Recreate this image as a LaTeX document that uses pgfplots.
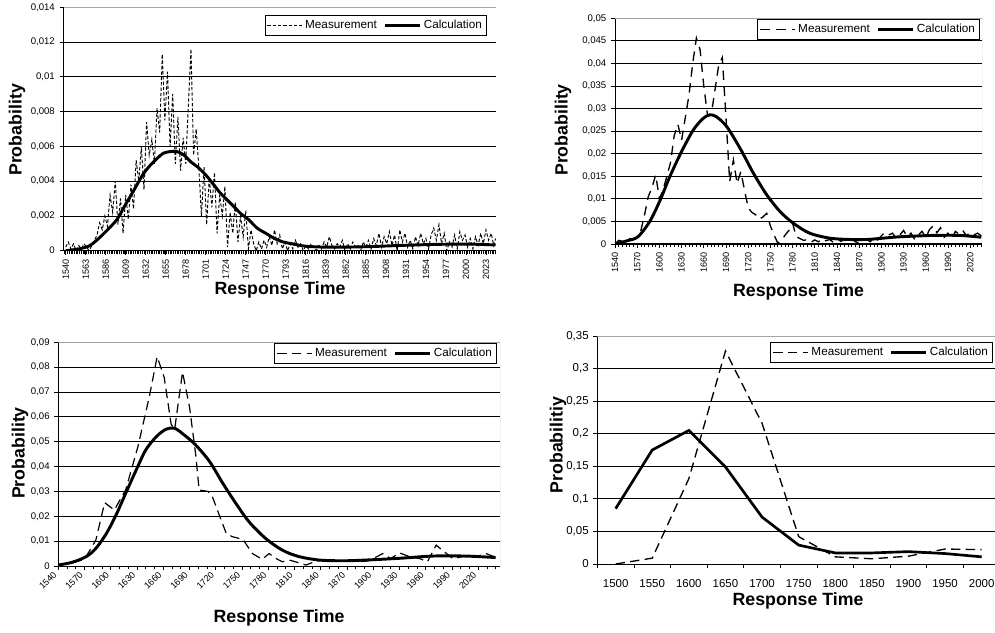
\documentclass[border=0pt]{standalone}
\usepackage{fontspec}
\setmainfont{Liberation Sans}
\usepackage{pgfplots}
\pgfplotsset{compat=1.18}
\begin{document}
\begin{tikzpicture}
\useasboundingbox (0,0) rectangle (746.25pt,474pt);
\pgfplotsset{
 panel/.style={
  scale only axis, anchor=south west,
  axis x line*=bottom, axis y line*=left,
  axis line style={black, line width=0.75pt},
  tick align=outside,
  major tick length=3pt, minor tick length=2.5pt,
  tick style={black, line width=0.6pt},
  ymajorgrids, grid style={black, line width=0.6pt},
  ymin=0, scaled y ticks=false, scaled x ticks=false,
  /pgf/number format/assume math mode=true,
  yticklabel style={font=\fontsize{7.2}{8}\selectfont, /pgf/number format/use comma, /pgf/number format/fixed, /pgf/number format/precision=3},
  xticklabel style={font=\fontsize{6.8}{8}\selectfont, /pgf/number format/1000 sep={}},
  label style={font=\bfseries\fontsize{13.3}{15}\selectfont},
  legend image code/.code={\draw[##1] (0pt,0pt) -- (26pt,0pt);},
  legend style={draw=black, line width=0.6pt, fill=white, font=\fontsize{8.8}{10}\selectfont, inner sep=1.5pt, anchor=north east, /tikz/every even column/.append style={column sep=3pt}},
  legend columns=2,
 },
 meas/.style={black, line width=0.8pt},
 calc/.style={black, line width=2.2pt},
}
% ---------------- Panel 1 ----------------
\begin{axis}[panel,
  at={(47.63pt,285.98pt)}, width=324.4pt, height=182.55pt,
  xmin=1537.5, xmax=2034.6, ymax=0.014,
  ytick={0,0.002,0.004,0.006,0.008,0.010,0.012,0.014},
  xtick={1540,1563,1586,1609,1632,1655,1678,1701,1724,1747,1770,1793,1816,1839,1862,1885,1908,1931,1954,1977,2000,2023},
  minor xtick={1538,1540,...,2034},
  xticklabel style={rotate=90, anchor=east},
  xlabel={Response Time}, ylabel={Probability},
  xlabel style={at={(axis description cs:0.5006,-0.1615)}, anchor=center},
  ylabel style={at={(axis description cs:-0.1075,0.496)}, anchor=center},
  legend style={at={(0.979,0.968)}},
]
\addplot[meas, line width=0.7pt, dash pattern=on 2.5pt off 1.5pt] table {
x y
1540 0.0002
1543 0.0005
1546 0.0001
1549 0.0004
1552 0.0000
1555 0.0003
1558 0.0001
1561 0.0004
1564 0.0002
1567 0.0000
1570 0.0003
1573 0.0006
1576 0.0009
1579 0.0016
1582 0.0012
1585 0.0020
1588 0.0014
1591 0.0032
1594 0.0022
1597 0.0040
1600 0.0015
1603 0.0030
1606 0.0010
1609 0.0032
1612 0.0018
1615 0.0038
1618 0.0024
1621 0.0052
1624 0.0040
1627 0.0060
1630 0.0035
1633 0.0074
1636 0.0055
1639 0.0064
1642 0.0050
1645 0.0082
1648 0.0068
1651 0.0113
1654 0.0075
1657 0.0103
1660 0.0060
1663 0.0090
1666 0.0050
1669 0.0077
1672 0.0046
1675 0.0065
1678 0.0050
1681 0.0084
1684 0.0116
1687 0.0055
1690 0.0070
1693 0.0048
1696 0.0020
1699 0.0048
1702 0.0015
1705 0.0042
1708 0.0025
1711 0.0045
1714 0.0010
1717 0.0032
1720 0.0020
1723 0.0037
1726 0.0002
1729 0.0022
1732 0.0010
1735 0.0028
1738 0.0005
1741 0.0020
1744 0.0008
1747 0.0023
1750 0.0001
1753 0.0012
1756 0.0004
1759 0.0000
1762 0.0005
1765 0.0001
1768 0.0006
1771 0.0002
1774 0.0008
1777 0.0003
1780 0.0012
1783 0.0004
1786 0.0009
1789 0.0001
1792 0.0005
1795 0.0000
1798 0.0004
1801 0.0001
1804 0.0006
1807 0.0002
1810 0.0004
1813 0.0000
1816 0.0003
1819 0.0001
1822 0.0004
1825 0.0002
1828 0.0000
1831 0.0003
1834 0.0001
1837 0.0005
1840 0.0002
1843 0.0008
1846 0.0003
1849 0.0001
1852 0.0004
1855 0.0002
1858 0.0006
1861 0.0000
1864 0.0004
1867 0.0001
1870 0.0005
1873 0.0002
1876 0.0003
1879 0.0000
1882 0.0005
1885 0.0002
1888 0.0006
1891 0.0001
1894 0.0007
1897 0.0003
1900 0.0010
1903 0.0002
1906 0.0008
1909 0.0004
1912 0.0011
1915 0.0003
1918 0.0009
1921 0.0000
1924 0.0012
1927 0.0005
1930 0.0010
1933 0.0002
1936 0.0006
1939 0.0001
1942 0.0008
1945 0.0003
1948 0.0010
1951 0.0004
1954 0.0007
1957 0.0001
1960 0.0009
1963 0.0013
1966 0.0006
1969 0.0015
1972 0.0004
1975 0.0010
1978 0.0000
1981 0.0005
1984 0.0002
1987 0.0009
1990 0.0001
1993 0.0011
1996 0.0006
1999 0.0009
2002 0.0002
2005 0.0007
2008 0.0001
2011 0.0008
2014 0.0003
2017 0.0010
2020 0.0004
2023 0.0012
2026 0.0006
2029 0.0010
2032 0.0003
2034 0.0007
};
\addlegendentry{Measurement}
\addplot[calc, smooth] table {
x y
1540 0.0000
1555 0.0001
1568 0.0003
1580 0.0008
1590 0.0013
1599 0.0018
1607 0.0025
1614 0.0031
1622 0.0038
1629 0.0044
1637 0.0049
1645 0.0053
1652 0.0056
1660 0.0057
1668 0.0057
1676 0.0055
1684 0.0051
1692 0.0048
1702 0.0043
1710 0.0038
1718 0.0033
1726 0.0029
1734 0.0025
1742 0.0021
1750 0.0018
1760 0.0013
1770 0.0010
1780 0.0007
1790 0.0005
1800 0.0004
1817 0.00025
1848 0.0002
1886 0.00023
1924 0.0003
1963 0.00036
2001 0.00038
2034 0.00033
};
\addlegendentry{Calculation}
\draw[gray!70, line width=0.6pt] (rel axis cs:0,1) -- (rel axis cs:1,1);
\end{axis}
% ---------------- Panel 2 ----------------
\begin{axis}[panel,
  at={(461.25pt,291pt)}, width=275.25pt, height=169.3pt,
  xmin=1540, xmax=2036, ymax=0.05,
  ytick={0,0.005,0.01,0.015,0.02,0.025,0.03,0.035,0.04,0.045,0.05},
  xtick={1540,1570,1600,1630,1660,1690,1720,1750,1780,1810,1840,1870,1900,1930,1960,1990,2020},
  minor xtick={1540,1545,...,2035},
  xticklabel style={rotate=90, anchor=east},
  xlabel={Response Time}, ylabel={Probability},
  xlabel style={at={(axis description cs:0.5,-0.2127)}, anchor=center},
  ylabel style={at={(axis description cs:-0.1417,0.505)}, anchor=center},
  legend style={at={(0.9946,0.997)}},
]
\addplot[meas, line width=1pt, dash pattern=on 7pt off 5pt] table {
x y
1540 0.0000
1545 0.0008
1550 0.0006
1555 0.0010
1560 0.0012
1565 0.0010
1570 0.0016
1575 0.0030
1580 0.0065
1585 0.0105
1590 0.0125
1595 0.0153
1600 0.0100
1605 0.0120
1610 0.0150
1615 0.0180
1620 0.0240
1625 0.0265
1630 0.0230
1635 0.0280
1640 0.0330
1645 0.0400
1650 0.0456
1655 0.0430
1660 0.0350
1665 0.0286
1670 0.0286
1675 0.0340
1680 0.0395
1685 0.0413
1690 0.0280
1695 0.0138
1700 0.0186
1705 0.0134
1710 0.0160
1715 0.0120
1720 0.0080
1725 0.0070
1730 0.0065
1735 0.0055
1740 0.0060
1745 0.0068
1750 0.0040
1755 0.0020
1760 0.0002
1765 0.0008
1770 0.0020
1775 0.0030
1780 0.0046
1785 0.0016
1790 0.0012
1795 0.0008
1800 0.0010
1805 0.0004
1810 0.0009
1815 0.0005
1820 0.0012
1825 0.0007
1830 0.0010
1835 0.0004
1840 0.0013
1845 0.0006
1850 0.0009
1855 0.0003
1860 0.0011
1865 0.0005
1870 0.0002
1875 0.0008
1880 0.0010
1885 0.0005
1890 0.0014
1895 0.0009
1900 0.0018
1905 0.0026
1910 0.0020
1915 0.0024
1920 0.0012
1925 0.0020
1930 0.0030
1935 0.0016
1940 0.0024
1945 0.0010
1950 0.0020
1955 0.0028
1960 0.0014
1965 0.0032
1970 0.0040
1975 0.0025
1980 0.0036
1985 0.0015
1990 0.0024
1995 0.0012
2000 0.0028
2005 0.0022
2010 0.0030
2015 0.0018
2020 0.0026
2025 0.0020
2030 0.0024
2035 0.0018
};
\addlegendentry{Measurement}
\addplot[calc, smooth] table {
x y
1540 0.0000
1556 0.0007
1571 0.0016
1587 0.0050
1601 0.0097
1614 0.0149
1630 0.0205
1646 0.0253
1659 0.0278
1668 0.0286
1677 0.0282
1691 0.0260
1709 0.0212
1727 0.0157
1745 0.0109
1763 0.0072
1781 0.0046
1803 0.0024
1830 0.0013
1857 0.0010
1880 0.0010
1903 0.0013
1925 0.0016
1970 0.0019
2006 0.0019
2035 0.0015
};
\addlegendentry{Calculation}
\draw[gray!70, line width=0.6pt] (rel axis cs:0,1) -- (rel axis cs:1,1) -- (rel axis cs:1,0);
\end{axis}
% ---------------- Panel 3 ----------------
\begin{axis}[panel,
  at={(43.73pt,49.5pt)}, width=331.3pt, height=167.8pt,
  xmin=1540, xmax=2045, ymax=0.09,
  ytick={0,0.01,0.02,0.03,0.04,0.05,0.06,0.07,0.08,0.09},
  xtick={1540,1570,1600,1630,1660,1690,1720,1750,1780,1810,1840,1870,1900,1930,1960,1990,2020},
  minor xtick={1540,1550,...,2040},
  xticklabel style={rotate=45, anchor=east},
  xlabel={Response Time}, ylabel={Probability},
  xlabel style={at={(axis description cs:0.4997,-0.2325)}, anchor=center},
  ylabel style={at={(axis description cs:-0.0867,0.505)}, anchor=center},
  legend style={at={(0.993,0.997)}},
]
\addplot[meas, line width=0.9pt, dash pattern=on 7pt off 4pt] table {
x y
1540 0.0004
1555 0.0012
1570 0.0027
1583 0.0105
1593 0.0255
1604 0.0225
1617 0.0306
1631 0.0480
1644 0.0680
1653 0.0842
1661 0.0760
1669 0.0570
1673 0.0550
1682 0.0780
1690 0.0640
1697 0.0450
1701 0.0306
1711 0.0300
1716 0.0280
1724 0.0205
1732 0.0131
1739 0.0118
1751 0.0107
1762 0.0050
1773 0.0027
1781 0.0050
1789 0.0030
1796 0.0017
1804 0.0024
1815 0.0013
1823 0.0004
1833 0.0017
1842 0.0024
1854 0.0021
1873 0.0021
1884 0.0017
1895 0.0021
1911 0.0050
1920 0.0030
1930 0.0053
1941 0.0038
1953 0.0030
1962 0.0017
1972 0.0084
1981 0.0058
1991 0.0030
2006 0.0040
2017 0.0037
2029 0.0050
2040 0.0035
};
\addlegendentry{Measurement}
\addplot[calc, smooth] table {
x y
1540 0.0004
1556 0.0015
1572 0.0038
1583 0.0071
1595 0.0131
1606 0.0205
1617 0.0292
1629 0.0386
1640 0.0467
1652 0.0520
1663 0.0550
1673 0.0554
1684 0.0527
1697 0.0487
1713 0.0420
1728 0.0333
1743 0.0252
1758 0.0178
1777 0.0111
1796 0.0064
1815 0.0038
1838 0.0024
1865 0.0021
1892 0.0024
1930 0.0031
1968 0.0040
2006 0.0040
2040 0.0034
};
\addlegendentry{Calculation}
\draw[gray!70, line width=0.6pt] (rel axis cs:0,1) -- (rel axis cs:1,1) -- (rel axis cs:1,0);
\end{axis}
% ---------------- Panel 4 ----------------
\begin{axis}[panel,
  at={(448pt,51pt)}, width=302pt, height=171pt,
  xmin=1475, xmax=2025, ymax=0.35,
  ytick={0,0.05,0.1,0.15,0.2,0.25,0.3,0.35},
  xtick={1500,1550,1600,1650,1700,1750,1800,1850,1900,1950,2000},
  minor xtick={1475,1525,...,2025},
  every major x tick/.append style={draw=none},
  minor tick length=3pt,
  yticklabel style={font=\fontsize{8.6}{10}\selectfont},
  xticklabel style={font=\fontsize{8.6}{10}\selectfont, yshift=-5pt},
  xlabel={Response Time}, ylabel={Probabilitiy},
  xlabel style={at={(axis description cs:0.4984,-0.1623)}, anchor=center},
  ylabel style={at={(axis description cs:-0.0976,0.522)}, anchor=center},
  legend style={at={(0.9826,0.974)}},
]
\addplot[meas, line width=1pt, dash pattern=on 7pt off 4pt] table {
x y
1500 0.000
1550 0.009
1600 0.131
1650 0.327
1700 0.216
1750 0.042
1800 0.011
1850 0.008
1900 0.012
1950 0.023
2000 0.022
};
\addlegendentry{Measurement}
\addplot[calc, line width=2pt] table {
x y
1500 0.085
1550 0.175
1600 0.205
1650 0.149
1700 0.072
1750 0.029
1800 0.017
1850 0.017
1900 0.019
1950 0.016
2000 0.011
};
\addlegendentry{Calculation}
\draw[gray!70, line width=0.6pt] (rel axis cs:0,1) -- (rel axis cs:1,1);
\end{axis}
\end{tikzpicture}
\end{document}
